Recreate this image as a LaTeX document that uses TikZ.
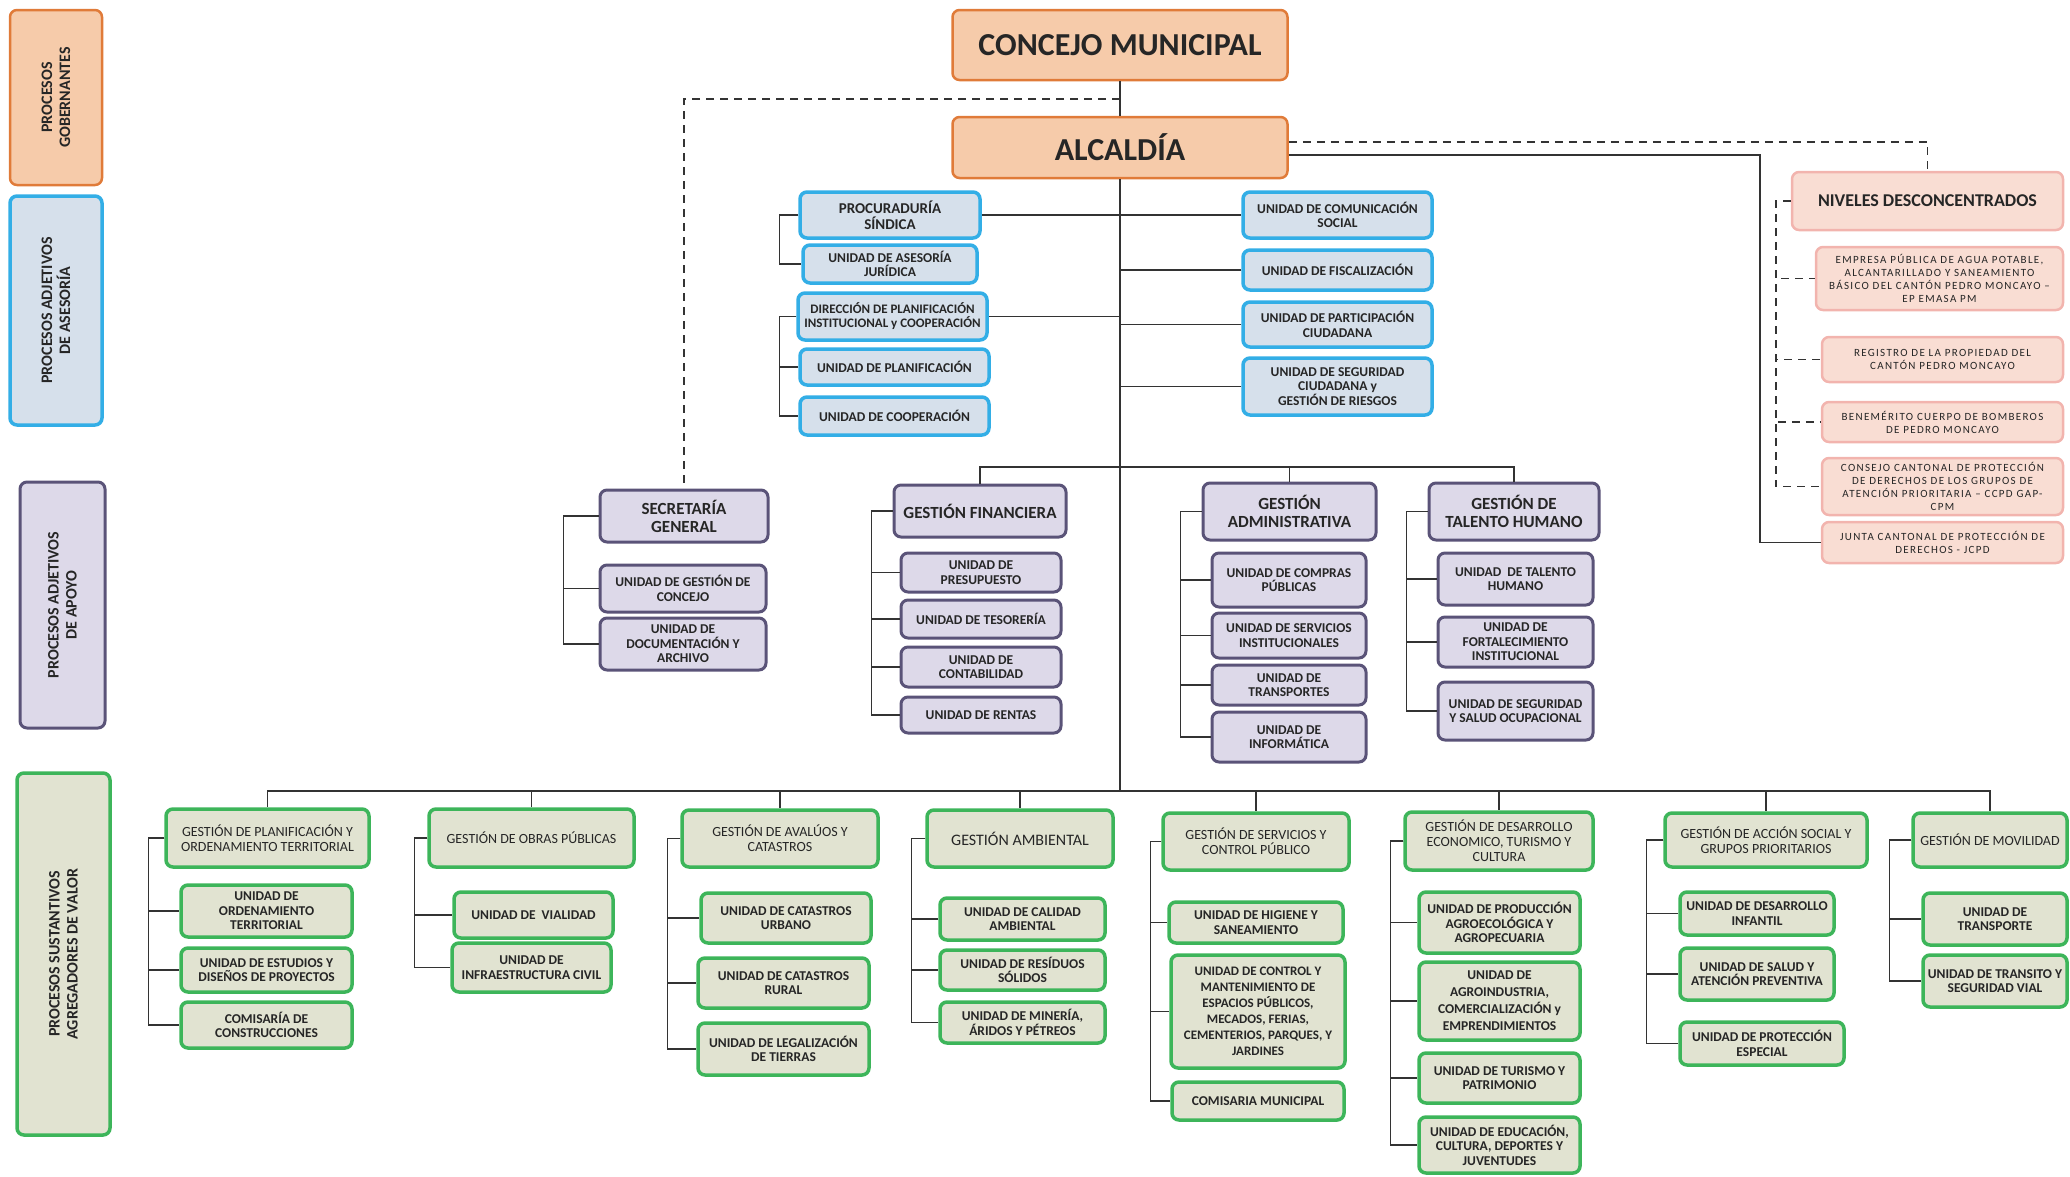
\documentclass[tikz,border=0pt]{standalone}
\usepackage{fontspec}
\setmainfont{Carlito}
\newfontfamily\anchafont[LetterSpace=12]{Carlito}
\definecolor{naranja}{HTML}{E07B39}
\definecolor{durazno}{HTML}{F6CBAA}
\definecolor{celeste}{HTML}{33AEE6}
\definecolor{azulclaro}{HTML}{D6E0EB}
\definecolor{morado}{HTML}{5A5378}
\definecolor{lila}{HTML}{DDD9E9}
\definecolor{verde}{HTML}{3DB55A}
\definecolor{beige}{HTML}{E1E3D1}
\definecolor{rosado}{HTML}{F2B4AE}
\definecolor{salmon}{HTML}{F9DDD3}
\definecolor{gris}{HTML}{333333}

\begin{document}
\begin{tikzpicture}[x=1pt, y=-1pt,
    caja/.style={rounded corners=7pt, align=center, inner sep=2pt, text=black!85, font=\bfseries\fontsize{13.5}{14.5}\selectfont},
    sz/.style 2 args={minimum width=#1, minimum height=#2},
    gob/.style={caja, draw=naranja, fill=durazno, line width=2.5pt},
    alto/.style={gob, font=\bfseries\fontsize{32}{34}\selectfont},
    ase/.style={caja, draw=celeste, fill=azulclaro, line width=3.5pt},
    apo/.style={caja, draw=morado, fill=lila, line width=3pt},
    gapo/.style={apo, font=\bfseries\fontsize{17}{18}\selectfont},
    sus/.style={caja, draw=verde, fill=beige, line width=3.5pt},
    gsus/.style={sus, font=\fontsize{14}{15}\selectfont},
    des/.style={caja, draw=rosado, fill=salmon, line width=2.5pt, font=\anchafont\fontsize{11}{13}\selectfont},
    lado/.style={rotate=90, font=\bfseries\fontsize{16}{18}\selectfont},
    con/.style={draw=gris, line width=1.5pt},
    punt/.style={con, dash pattern=on 8pt off 6pt}]

    \useasboundingbox (0,0) rectangle (2070,1176);

    % franjas de procesos
    \node[gob, lado, sz={175}{92}] (lgob) at (56,97.5) {PROCESOS\\GOBERNANTES};
    \node[ase, lado, sz={229}{92}] (lase) at (56,310.5) {PROCESOS ADJETIVOS\\DE ASESORÍA};
    \node[apo, lado, sz={246}{85}] (lapo) at (62.5,605) {PROCESOS ADJETIVOS\\DE APOYO};
    \node[sus, lado, sz={362}{93}] (lsus) at (63.5,954) {PROCESOS SUSTANTIVOS\\AGREGADORES DE VALOR};

    % nivel gobernante
    \node[alto, sz={335}{70}] (concejo) at (1120,45) {CONCEJO MUNICIPAL};
    \node[alto, sz={335}{61}] (alcaldia) at (1120,147.5) {ALCALDÍA};

    % asesoria
    \node[ase, sz={180}{46}, font=\bfseries\fontsize{15}{16}\selectfont] (proc) at (890,215) {PROCURADURÍA\\SÍNDICA};
    \node[ase, sz={174}{38}] (ase) at (890,264) {UNIDAD DE ASESORÍA\\JURÍDICA};
    \node[ase, sz={189}{47}, font=\bfseries\fontsize{13}{14}\selectfont] (dir) at (892.5,316.5) {DIRECCIÓN DE PLANIFICACIÓN\\INSTITUCIONAL y COOPERACIÓN};
    \node[ase, sz={189}{36}] (pla) at (894.5,367) {UNIDAD DE PLANIFICACIÓN};
    \node[ase, sz={189}{38}] (coo) at (894.5,416) {UNIDAD DE COOPERACIÓN};
    \node[ase, sz={189}{46}] (com) at (1337.5,215) {UNIDAD DE COMUNICACIÓN\\SOCIAL};
    \node[ase, sz={189}{40}] (fis) at (1337.5,270) {UNIDAD DE FISCALIZACIÓN};
    \node[ase, sz={189}{45}] (par) at (1337.5,324.5) {UNIDAD DE PARTICIPACIÓN\\CIUDADANA};
    \node[ase, sz={189}{57}] (seg) at (1337.5,386.5) {UNIDAD DE SEGURIDAD\\CIUDADANA y\\GESTIÓN DE RIESGOS};

    % niveles desconcentrados
    \node[des, sz={271}{58}, font=\bfseries\fontsize{18}{20}\selectfont] (niv) at (1927.5,201) {NIVELES DESCONCENTRADOS};
    \node[des, sz={247}{63}] (emp) at (1939.5,278.5) {EMPRESA PÚBLICA DE AGUA POTABLE,\\ALCANTARILLADO Y SANEAMIENTO\\BÁSICO DEL CANTÓN PEDRO MONCAYO –\\EP EMASA PM};
    \node[des, sz={241}{45}] (reg) at (1942.5,359.5) {REGISTRO DE LA PROPIEDAD DEL\\CANTÓN PEDRO MONCAYO};
    \node[des, sz={241}{40}] (ben) at (1942.5,422) {BENEMÉRITO CUERPO DE BOMBEROS\\DE PEDRO MONCAYO};
    \node[des, sz={241}{57}] (ccp) at (1942.5,486.5) {CONSEJO CANTONAL DE PROTECCIÓN\\DE DERECHOS DE LOS GRUPOS DE\\ATENCIÓN PRIORITARIA – CCPD GAP-\\CPM};
    \node[des, sz={241}{41}] (jun) at (1942.5,542.5) {JUNTA CANTONAL DE PROTECCIÓN DE\\DERECHOS - JCPD};

    % apoyo
    \node[gapo, sz={168}{52}] (sg) at (684,516) {SECRETARÍA\\GENERAL};
    \node[apo, sz={166}{47}] (ugc) at (683,588.5) {UNIDAD DE GESTIÓN DE\\CONCEJO};
    \node[apo, sz={166}{52}] (uda) at (683,644) {UNIDAD DE\\DOCUMENTACIÓN Y\\ARCHIVO};
    \node[gapo, sz={172}{52}] (gf) at (980,511) {GESTIÓN FINANCIERA};
    \node[apo, sz={160}{39}] (upr) at (981,572.5) {UNIDAD DE\\PRESUPUESTO};
    \node[apo, sz={160}{38}] (ute) at (981,619) {UNIDAD DE TESORERÍA};
    \node[apo, sz={160}{40}] (uco) at (981,667) {UNIDAD DE\\CONTABILIDAD};
    \node[apo, sz={160}{36}] (ure) at (981,715) {UNIDAD DE RENTAS};
    \node[gapo, sz={173}{57}] (ga) at (1289.5,511.5) {GESTIÓN\\ADMINISTRATIVA};
    \node[apo, sz={154}{54}] (ucp) at (1289,580) {UNIDAD DE COMPRAS\\PÚBLICAS};
    \node[apo, sz={154}{45}] (usi) at (1289,635.5) {UNIDAD DE SERVICIOS\\INSTITUCIONALES};
    \node[apo, sz={154}{40}] (utr) at (1289,685) {UNIDAD DE\\TRANSPORTES};
    \node[apo, sz={154}{50}] (uin) at (1289,737) {UNIDAD DE\\INFORMÁTICA};
    \node[gapo, sz={170}{57}] (gth) at (1514,511.5) {GESTIÓN DE\\TALENTO HUMANO};
    \node[apo, sz={155}{52}] (uth) at (1515.5,579) {UNIDAD\ \ DE TALENTO\\HUMANO};
    \node[apo, sz={155}{50}] (ufi) at (1515.5,642) {UNIDAD DE\\FORTALECIMIENTO\\INSTITUCIONAL};
    \node[apo, sz={155}{58}] (uss) at (1515.5,711) {UNIDAD DE SEGURIDAD\\Y SALUD OCUPACIONAL};

    % agregadores de valor
    \node[gsus, sz={203}{58}] (gpot) at (267.5,838) {GESTIÓN DE PLANIFICACIÓN Y\\ORDENAMIENTO TERRITORIAL};
    \node[sus, sz={171}{52}] (uot) at (266.5,911) {UNIDAD DE\\ORDENAMIENTO\\TERRITORIAL};
    \node[sus, sz={171}{44}] (ued) at (266.5,970) {UNIDAD DE ESTUDIOS Y\\DISEÑOS DE PROYECTOS};
    \node[sus, sz={171}{46}] (ucc) at (266.5,1025) {COMISARÍA DE\\CONSTRUCCIONES};
    \node[gsus, sz={205}{58}] (gop) at (531.5,838) {GESTIÓN DE OBRAS PÚBLICAS};
    \node[sus, sz={159}{46}] (uvi) at (533.5,915) {UNIDAD DE\ \ VIALIDAD};
    \node[sus, sz={159}{49}] (uic) at (531.5,967.5) {UNIDAD DE\\INFRAESTRUCTURA CIVIL};
    \node[gsus, sz={196}{57}] (gac) at (780,838.5) {GESTIÓN DE AVALÚOS Y\\CATASTROS};
    \node[sus, sz={170}{50}] (ucu) at (786,918) {UNIDAD DE CATASTROS\\URBANO};
    \node[sus, sz={171}{50}] (ucr) at (783.5,983) {UNIDAD DE CATASTROS\\RURAL};
    \node[sus, sz={171}{52}] (ult) at (783.5,1049) {UNIDAD DE LEGALIZACIÓN\\DE TIERRAS};
    \node[gsus, sz={186}{57}, font=\fontsize{16}{17}\selectfont] (gam) at (1020,838.5) {GESTIÓN AMBIENTAL};
    \node[sus, sz={165}{42}] (uca) at (1022.5,919) {UNIDAD DE CALIDAD\\AMBIENTAL};
    \node[sus, sz={165}{40}] (urs) at (1022.5,970) {UNIDAD DE RESÍDUOS\\SÓLIDOS};
    \node[sus, sz={165}{41}] (umi) at (1022.5,1022.5) {UNIDAD DE MINERÍA,\\ÁRIDOS Y PÉTREOS};
    \node[gsus, sz={186}{57}] (gsc) at (1256,841.5) {GESTIÓN DE SERVICIOS Y\\CONTROL PÚBLICO};
    \node[sus, sz={174}{41}] (uhs) at (1256,922.5) {UNIDAD DE HIGIENE Y\\SANEAMIENTO};
    \node[sus, sz={174}{113}, font=\bfseries\fontsize{13}{16}\selectfont] (ucm) at (1258,1011.5) {UNIDAD DE CONTROL Y\\MANTENIMIENTO DE\\ESPACIOS PÚBLICOS,\\MECADOS, FERIAS,\\CEMENTERIOS, PARQUES, Y\\JARDINES};
    \node[sus, sz={172}{38}] (ucmu) at (1258,1101) {COMISARIA MUNICIPAL};
    \node[gsus, sz={188}{58}] (gde) at (1499,841) {GESTIÓN DE DESARROLLO\\ECONOMICO, TURISMO Y\\CULTURA};
    \node[sus, sz={161}{61}] (upa) at (1499.5,922.5) {UNIDAD DE PRODUCCIÓN\\AGROECOLÓGICA Y\\AGROPECUARIA};
    \node[sus, sz={161}{78}, font=\bfseries\fontsize{13.5}{17}\selectfont] (uag) at (1499.5,1001) {UNIDAD DE\\AGROINDUSTRIA,\\COMERCIALIZACIÓN y\\EMPRENDIMIENTOS};
    \node[sus, sz={161}{50}] (utp) at (1499.5,1078) {UNIDAD DE TURISMO Y\\PATRIMONIO};
    \node[sus, sz={161}{56}] (uec) at (1499.5,1145) {UNIDAD DE EDUCACIÓN,\\CULTURA, DEPORTES Y\\JUVENTUDES};
    \node[gsus, sz={202}{54}] (gas) at (1766,840) {GESTIÓN DE ACCIÓN SOCIAL Y\\GRUPOS PRIORITARIOS};
    \node[sus, sz={154}{43}] (udi) at (1757,913.5) {UNIDAD DE DESARROLLO\\INFANTIL};
    \node[sus, sz={154}{52}] (usa) at (1757,974) {UNIDAD DE SALUD Y\\ATENCIÓN PREVENTIVA};
    \node[sus, sz={164}{43}] (upe) at (1762,1043.5) {UNIDAD DE PROTECCIÓN\\ESPECIAL};
    \node[gsus, sz={154}{54}] (gmo) at (1990,840) {GESTIÓN DE MOVILIDAD};
    \node[sus, sz={144}{52}] (utra) at (1995,919) {UNIDAD DE\\TRANSPORTE};
    \node[sus, sz={144}{52}] (utsv) at (1995,981) {UNIDAD DE TRANSITO Y\\SEGURIDAD VIAL};

    % puntos de union
    \coordinate (cd) at (1120,99);
    \coordinate (busA) at (1120,467);
    \coordinate (busB) at (1120,791);
    \coordinate (rj) at (1760,155);
    \coordinate (rn) at (1927.5,142);

    % tronco y lineas discontinuas
    \draw[con] (concejo) -- (alcaldia);
    \draw[con] (alcaldia) -- (busB);
    \draw[punt] (cd) -| (sg.north);
    \draw[punt] (alcaldia.east |- rn) -- (rn) -- (niv.north);
    \draw[con] (alcaldia.east |- rj) -- (rj) |- (jun.west);
    \draw[punt] (niv.west) -- ++(-15,0) |- (emp.west);
    \draw[punt] (niv.west) -- ++(-15,0) |- (reg.west);
    \draw[punt] (niv.west) -- ++(-15,0) |- (ben.west);
    \draw[punt] (niv.west) -- ++(-15,0) |- (ccp.west);

    % asesoria
    \draw[con] (proc.east) -- (com.west);
    \draw[con] (dir.east) -- (dir.east -| busA);
    \draw[con] (fis.west) -- (fis.west -| busA);
    \draw[con] (par.west) -- (par.west -| busA);
    \draw[con] (seg.west) -- (seg.west -| busA);
    \draw[con] (proc.west) -- ++(-19,0) |- (ase.west);
    \draw[con] (dir.west) -- ++(-17,0) |- (pla.west);
    \draw[con] (dir.west) -- ++(-17,0) |- (coo.west);

    % apoyo
    \draw[con] (busA) -| (gf.north);
    \draw[con] (busA) -| (ga.north);
    \draw[con] (busA) -| (gth.north);
    \draw[con] (sg.west) -- ++(-35,0) |- (ugc.west);
    \draw[con] (sg.west) -- ++(-35,0) |- (uda.west);
    \draw[con] (gf.west) -- ++(-21,0) |- (upr.west);
    \draw[con] (gf.west) -- ++(-21,0) |- (ute.west);
    \draw[con] (gf.west) -- ++(-21,0) |- (uco.west);
    \draw[con] (gf.west) -- ++(-21,0) |- (ure.west);
    \draw[con] (ga.west) -- ++(-21,0) |- (ucp.west);
    \draw[con] (ga.west) -- ++(-21,0) |- (usi.west);
    \draw[con] (ga.west) -- ++(-21,0) |- (utr.west);
    \draw[con] (ga.west) -- ++(-21,0) |- (uin.west);
    \draw[con] (gth.west) -- ++(-21,0) |- (uth.west);
    \draw[con] (gth.west) -- ++(-21,0) |- (ufi.west);
    \draw[con] (gth.west) -- ++(-21,0) |- (uss.west);

    % agregadores de valor
    \draw[con] (busB) -| (gpot.north);
    \draw[con] (busB) -| (gop.north);
    \draw[con] (busB) -| (gac.north);
    \draw[con] (busB) -| (gam.north);
    \draw[con] (busB) -| (gsc.north);
    \draw[con] (busB) -| (gde.north);
    \draw[con] (busB) -| (gas.north);
    \draw[con] (busB) -| (gmo.north);
    \draw[con] (gpot.west) -- ++(-16,0) |- (uot.west);
    \draw[con] (gpot.west) -- ++(-16,0) |- (ued.west);
    \draw[con] (gpot.west) -- ++(-16,0) |- (ucc.west);
    \draw[con] (gop.west) -- ++(-13,0) |- (uvi.west);
    \draw[con] (gop.west) -- ++(-13,0) |- (uic.west);
    \draw[con] (gac.west) -- ++(-13,0) |- (ucu.west);
    \draw[con] (gac.west) -- ++(-13,0) |- (ucr.west);
    \draw[con] (gac.west) -- ++(-13,0) |- (ult.west);
    \draw[con] (gam.west) -- ++(-14,0) |- (uca.west);
    \draw[con] (gam.west) -- ++(-14,0) |- (urs.west);
    \draw[con] (gam.west) -- ++(-14,0) |- (umi.west);
    \draw[con] (gsc.west) -- ++(-11,0) |- (uhs.west);
    \draw[con] (gsc.west) -- ++(-11,0) |- (ucm.west);
    \draw[con] (gsc.west) -- ++(-11,0) |- (ucmu.west);
    \draw[con] (gde.west) -- ++(-13,0) |- (upa.west);
    \draw[con] (gde.west) -- ++(-13,0) |- (uag.west);
    \draw[con] (gde.west) -- ++(-13,0) |- (utp.west);
    \draw[con] (gde.west) -- ++(-13,0) |- (uec.west);
    \draw[con] (gas.west) -- ++(-17,0) |- (udi.west);
    \draw[con] (gas.west) -- ++(-17,0) |- (usa.west);
    \draw[con] (gas.west) -- ++(-17,0) |- (upe.west);
    \draw[con] (gmo.west) -- ++(-22,0) |- (utra.west);
    \draw[con] (gmo.west) -- ++(-22,0) |- (utsv.west);
\end{tikzpicture}
\end{document}
